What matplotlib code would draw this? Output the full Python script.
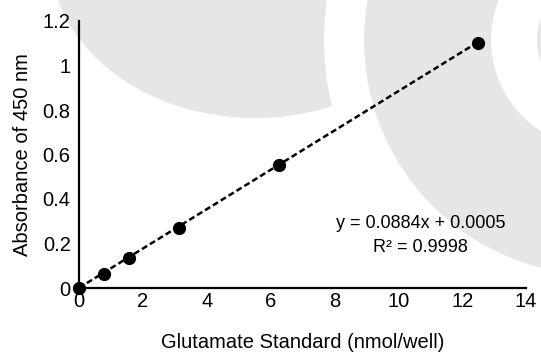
import numpy as np
import matplotlib
matplotlib.use("Agg")
import matplotlib.pyplot as plt
from matplotlib.patches import Circle, Ellipse

plt.rcParams['font.family'] = ['Liberation Sans', 'DejaVu Sans']

# glutamate standard curve
glutamate_nmol = [0, 0.78, 1.56, 3.125, 6.25, 12.5]
absorbance_450 = [0, 0.065, 0.135, 0.27, 0.555, 1.10]
slope = 0.0884
intercept = 0.0005
r_squared = 0.9998

x_ticks = [0, 2, 4, 6, 8, 10, 12, 14]
y_ticks = [0, 0.2, 0.4, 0.6, 0.8, 1.0, 1.2]
y_tick_labels = ['0', '0.2', '0.4', '0.6', '0.8', '1', '1.2']

W, H = 541, 358
fig = plt.figure(figsize=(W / 100, H / 100), dpi=100)

# light grey watermark rings behind the chart (pixel coordinates)
bg = fig.add_axes([0, 0, 1, 1], zorder=-1)
bg.set_xlim(0, W)
bg.set_ylim(H, 0)
bg.axis('off')
grey = '#e6e6e6'
bg.add_patch(Ellipse((255, -45), 410, 326, color=grey, lw=0))
bg.add_patch(Circle((599, 40), 275, color='white', lw=0))
bg.add_patch(Circle((599, 40), 235, color=grey, lw=0))
bg.add_patch(Circle((599, 40), 108, color='white', lw=0))
bg.add_patch(Circle((599, 40), 62, color=grey, lw=0))

left, right, top, bottom = 79, 526, 21, 288
ax = fig.add_axes([left / W, (H - bottom) / H, (right - left) / W, (bottom - top) / H])
ax.set_facecolor('none')

# trendline
xs = np.array([0, max(glutamate_nmol)])
ax.plot(xs, slope * xs + intercept, color='black', lw=1.8,
        linestyle=(0, (2.4, 1.3)), zorder=2, clip_on=False)
ax.plot(glutamate_nmol, absorbance_450, 'o', color='black', markersize=8.5,
        zorder=3, clip_on=False)

ax.set_xlim(0, 14)
ax.set_ylim(0, 1.2)
ax.set_xticks(x_ticks)
ax.set_yticks(y_ticks)
ax.set_yticklabels(y_tick_labels)
ax.tick_params(length=0, labelsize=14.5, pad=3)
ax.tick_params(axis='y', pad=6)

for side in ['top', 'right']:
    ax.spines[side].set_visible(False)
for side in ['left', 'bottom']:
    ax.spines[side].set_linewidth(1.6)
    ax.spines[side].set_color('black')

ax.set_xlabel('Glutamate Standard (nmol/well)', fontsize=14.5, labelpad=16)
ax.set_ylabel('Absorbance of 450 nm', fontsize=14.5, labelpad=8)

ax.text(10.7, 0.292, f'y = {slope}x + {intercept}', fontsize=13, ha='center', va='center')
ax.text(10.7, 0.18, f'R² = {r_squared}', fontsize=13, ha='center', va='center')

fig.savefig('out.png', dpi=100)
